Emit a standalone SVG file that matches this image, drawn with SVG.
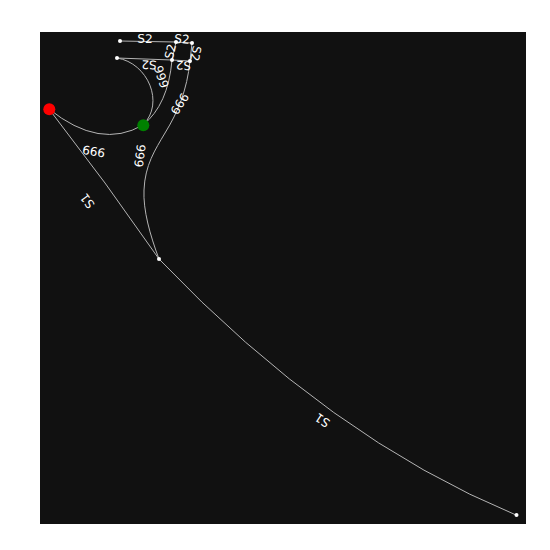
<svg xmlns="http://www.w3.org/2000/svg" width="550" height="550" viewBox="0 0 550 550">
  <style>
    .edge { fill: none; stroke: #b4b4b4; stroke-width: 1; }
    .lbl { fill: #ffffff; font-family: "DejaVu Sans", sans-serif; font-size: 12px; text-anchor: middle; dominant-baseline: central; }
    .small { fill: #ffffff; }
  </style>
  <rect x="0" y="0" width="550" height="550" fill="#ffffff"/>
  <rect x="40" y="32" width="486" height="492" fill="#111111"/>

  <g id="connectors">
    <path class="edge" d="M120,41 L176,42"/>
    <path class="edge" d="M176,42 L192,43"/>
    <path class="edge" d="M172,60 L176,42"/>
    <path class="edge" d="M192,43 L190,61"/>
    <path class="edge" d="M172,60 L117,58"/>
    <path class="edge" d="M190,61 L172,60"/>
    <path class="edge" d="M117,58 C148,63 165,103 143,125"/>
    <path class="edge" d="M172,60 Q168,105 143,125"/>
    <path class="edge" d="M143,125 Q100,150 49,109"/>
    <path class="edge" d="M159,259 C150,235 143,210 144,190 C145,165 155,150 165,133 C178,112 187,90 190,61"/>
    <path class="edge" d="M159,259 Q106,182 49,109"/>
    <path class="edge" d="M516,515 Q330,438 159,259"/>

    <text class="lbl" transform="translate(145,39) rotate(1)">S2</text>
    <text class="lbl" transform="translate(182,39.3) rotate(4)">S2</text>
    <text class="lbl" transform="translate(170.5,51.5) rotate(-77)">S2</text>
    <text class="lbl" transform="translate(195.5,53.5) rotate(100)">S2</text>
    <text class="lbl" transform="translate(149,64.5) rotate(182)">S2</text>
    <text class="lbl" transform="translate(183.5,65) rotate(183)">S2</text>
    <text class="lbl" transform="translate(161,77) rotate(72)">999</text>
    <text class="lbl" transform="translate(93.8,151) rotate(190)">999</text>
    <text class="lbl" transform="translate(140.3,155.8) rotate(-83)">666</text>
    <text class="lbl" transform="translate(180,104) rotate(-58)">666</text>
    <text class="lbl" transform="translate(87.5,200.8) rotate(233.7)">S1</text>
    <text class="lbl" transform="translate(322.5,420) rotate(214)">S1</text>
  </g>

  <g id="node-a"><circle class="small" cx="120" cy="41" r="2"/></g>
  <g id="node-b"><circle class="small" cx="176" cy="42" r="2"/></g>
  <g id="node-c"><circle class="small" cx="192" cy="43" r="2"/></g>
  <g id="node-d"><circle class="small" cx="117" cy="58" r="2"/></g>
  <g id="node-e"><circle class="small" cx="172" cy="60" r="2"/></g>
  <g id="node-f"><circle class="small" cx="190" cy="61" r="2"/></g>
  <g id="node-g"><circle class="small" cx="159" cy="259" r="2"/></g>
  <g id="node-h"><circle class="small" cx="516.5" cy="515" r="2"/></g>
  <g id="node-red"><circle cx="49.3" cy="109.3" r="6" fill="#ff0000"/></g>
  <g id="node-green"><circle cx="143.3" cy="125.2" r="6" fill="#008000"/></g>
</svg>
